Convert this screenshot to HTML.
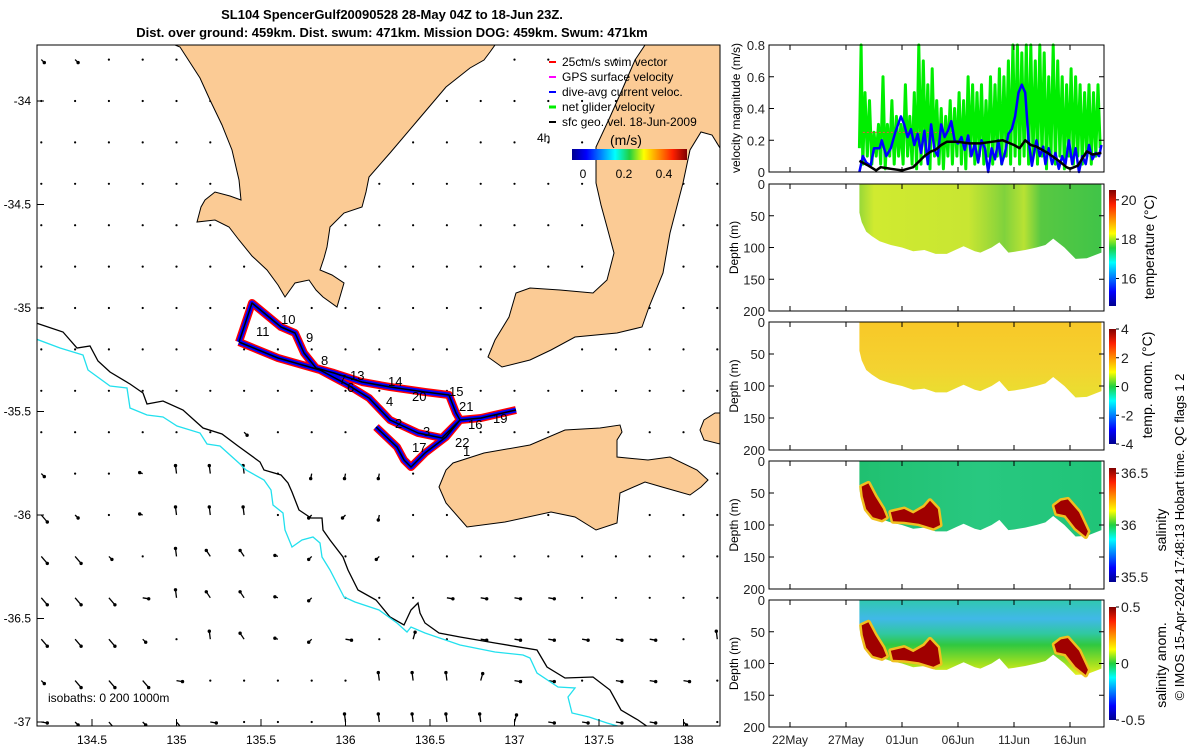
<!DOCTYPE html>
<html><head><meta charset="utf-8"><style>
html,body{margin:0;padding:0;background:#fff}
svg{display:block;font-family:"Liberation Sans","DejaVu Sans",sans-serif}
</style></head><body>
<svg id="fig" width="1200" height="750" viewBox="0 0 1200 750" xmlns="http://www.w3.org/2000/svg">
<defs>
<linearGradient id="jetV" x1="0" y1="1" x2="0" y2="0">
<stop offset="0" stop-color="#00008f"/><stop offset="0.125" stop-color="#0000ff"/><stop offset="0.375" stop-color="#00ffff"/><stop offset="0.5" stop-color="#20d040"/><stop offset="0.625" stop-color="#ffff00"/><stop offset="0.875" stop-color="#ff2000"/><stop offset="1" stop-color="#800000"/></linearGradient>
<linearGradient id="jetH" x1="0" y1="0" x2="1" y2="0">
<stop offset="0" stop-color="#00008f"/><stop offset="0.125" stop-color="#0000ff"/><stop offset="0.375" stop-color="#00ffff"/><stop offset="0.5" stop-color="#20d040"/><stop offset="0.625" stop-color="#ffff00"/><stop offset="0.875" stop-color="#ff2000"/><stop offset="1" stop-color="#800000"/></linearGradient>
<linearGradient id="tempG" x1="0" y1="0" x2="1" y2="0">
<stop offset="0" stop-color="#98d838"/><stop offset="0.06" stop-color="#d0ea30"/><stop offset="0.45" stop-color="#c8e632"/><stop offset="0.52" stop-color="#a8dc36"/><stop offset="0.6" stop-color="#80d23c"/><stop offset="0.68" stop-color="#b8e234"/><stop offset="0.75" stop-color="#58c842"/><stop offset="1" stop-color="#40c448"/></linearGradient>
<linearGradient id="anomG" x1="0" y1="0" x2="0" y2="1">
<stop offset="0" stop-color="#f8c828"/><stop offset="0.6" stop-color="#f4d230"/><stop offset="1" stop-color="#e8e030"/></linearGradient>
<linearGradient id="salG" x1="0" y1="0" x2="1" y2="0">
<stop offset="0" stop-color="#20c070"/><stop offset="0.5" stop-color="#28c880"/><stop offset="1" stop-color="#20c478"/></linearGradient>
<linearGradient id="sanG" x1="0" y1="0" x2="0" y2="1">
<stop offset="0" stop-color="#30c8b0"/><stop offset="0.25" stop-color="#40b8e8"/><stop offset="0.45" stop-color="#30c8a0"/><stop offset="0.6" stop-color="#30c840"/><stop offset="0.85" stop-color="#a0e020"/><stop offset="1" stop-color="#e8f020"/></linearGradient>
<clipPath id="mapClip"><rect x="37" y="45" width="683" height="681"/></clipPath>
</defs>

<g font-weight="bold" font-size="13" text-anchor="middle">
<text x="392" y="19">SL104 SpencerGulf20090528 28-May 04Z to 18-Jun 23Z.</text>
<text x="392" y="37">Dist. over ground: 459km. Dist. swum: 471km. Mission DOG: 459km. Swum: 471km</text>
</g>

<g id="map" clip-path="url(#mapClip)">
<g id="arrows"></g>
<g fill="#fbcb95" stroke="#000" stroke-width="1">
<polygon points="175,45 180,47 200,78 210,100 222,125 232,150 239,180 241,200 230,196 215,192 205,200 201,207 197,222 215,220 229,227 239,240 252,256 267,270 278,285 285,297 295,283 309,280 316,290 323,297 337,307 344,283 332,275 320,270 324,258 327,247 330,227 344,213 362,207 366,192 369,177 390,153 418,120 446,87 470,68 484,60 490,52 495,45"/>
<polygon points="645,45 635,60 622,90 610,117 596,147 596,183 601,205 607,227 614,253 607,280 593,293 560,290 530,288 516,293 509,317 495,340 488,357 502,367 530,360 551,350 575,337 617,333 642,327 649,307 663,273 670,233 683,183 690,150 701,132 712,135 720,148 720,45"/>
<polygon points="439,487 446,470 453,463 484,453 530,445 565,430 600,428 620,425 622,432 617,440 617,457 648,460 670,457 697,470 708,480 701,487 690,495 662,487 645,482 620,493 617,523 596,530 575,517 551,512 505,522 467,527 446,503"/>
<polygon points="704,420 715,413 724,413 724,445 704,440 700,430"/>
</g>
<polyline fill="none" stroke="#000" stroke-width="1.3" points="36,323 63,332 77,348 90,346 98,361 110,372 130,384 143,393 147,404 163,401 183,410 203,428 222,434 238,446 260,462 264,470 281,475 288,483 292,492 299,510 311,518 322,518 323,530 330,540 343,557 348,570 358,590 376,600 390,617 404,625 411,610 418,603 420,613 425,623 439,633 460,637 495,643 537,650 547,667 565,678 593,677 610,690 621,710 638,720 648,727"/>
<polyline fill="none" stroke="#22e0ee" stroke-width="1.3" points="36,339 60,348 83,355 88,370 110,386 127,388 130,408 147,415 163,417 177,426 200,433 207,444 220,446 240,464 246,470 264,480 271,490 273,505 283,513 285,530 292,547 302,540 313,537 320,543 322,557 330,570 344,597 355,602 379,610 397,623 407,632 411,627 425,633 460,645 495,652 523,655 530,658 537,673 558,687 575,688 568,697 572,713 589,717 607,723 621,727"/>
<g fill="none" stroke-linejoin="round">
<path stroke="#ff0000" stroke-width="8" d="M239,342 L252,303 L281,327 L295,333 L304,353 L316,368 L334,373 L362,382 L390,387 L425,392 L449,395 L456,413 L460,420 L481,418 L516,410 M460,420 L446,437 L425,453 L411,467 L404,460 L397,447 L376,427 M239,342 L278,358 L320,370 L348,385 L369,398 L390,420 L418,433 L442,438 L460,420"/>
<path stroke="#0000ff" stroke-width="5" d="M239,342 L252,303 L281,327 L295,333 L304,353 L316,368 L334,373 L362,382 L390,387 L425,392 L449,395 L456,413 L460,420 L481,418 L516,410 M460,420 L446,437 L425,453 L411,467 L404,460 L397,447 L376,427 M239,342 L278,358 L320,370 L348,385 L369,398 L390,420 L418,433 L442,438 L460,420"/>
<path stroke="#000" stroke-width="1.5" d="M239,342 L252,303 L281,327 L295,333 L304,353 L316,368 L334,373 L362,382 L390,387 L425,392 L449,395 L456,413 L460,420 L481,418 L516,410 M460,420 L446,437 L425,453 L411,467 L404,460 L397,447 L376,427 M239,342 L278,358 L320,370 L348,385 L369,398 L390,420 L418,433 L442,438 L460,420"/>
</g>
<g font-size="13" fill="#000">
<text x="281" y="324">10</text><text x="256" y="336">11</text><text x="306" y="342">9</text><text x="321" y="365">8</text>
<text x="339" y="384">7</text><text x="347" y="392">6</text><text x="350" y="380">13</text><text x="388" y="386">14</text>
<text x="412" y="401">20</text><text x="386" y="406">4</text><text x="449" y="396">15</text><text x="459" y="411">21</text>
<text x="468" y="429">16</text><text x="493" y="423">19</text><text x="395" y="428">2</text><text x="423" y="436">3</text>
<text x="412" y="452">17</text><text x="455" y="447">22</text><text x="463" y="456">1</text>
</g>
</g>
<rect x="37" y="45" width="683" height="681" fill="none" stroke="#000" stroke-width="1"/>

<g font-size="12">
<line x1="549" y1="62" x2="556" y2="62" stroke="#f00" stroke-width="2"/><text x="562" y="66">25cm/s swim vector</text>
<line x1="549" y1="77" x2="556" y2="77" stroke="#f0f" stroke-width="2"/><text x="562" y="81">GPS surface velocity</text>
<line x1="549" y1="92" x2="556" y2="92" stroke="#00f" stroke-width="2"/><text x="562" y="96">dive-avg current veloc.</text>
<line x1="549" y1="107" x2="556" y2="107" stroke="#0e0" stroke-width="3"/><text x="562" y="111">net glider velocity</text>
<line x1="549" y1="122" x2="556" y2="122" stroke="#000" stroke-width="2"/><text x="562" y="126">sfc geo. vel. 18-Jun-2009</text>
<text x="537" y="142">4h</text>
<text x="610" y="145" font-size="14">(m/s)</text>
<rect x="572" y="149" width="115" height="11" fill="url(#jetH)"/>
<text x="583" y="178" text-anchor="middle">0</text><text x="624" y="178" text-anchor="middle">0.2</text><text x="664" y="178" text-anchor="middle">0.4</text>
</g>
<text x="48" y="702" font-size="12">isobaths: 0   200  1000m</text>

<g id="mapAxes" font-size="12"></g>
<g id="right"></g>

<g font-size="14" text-anchor="middle">
<text transform="translate(1154,247) rotate(-90)">temperature (°C)</text>
<text transform="translate(1152,385) rotate(-90)">temp. anom. (°C)</text>
<text transform="translate(1166,530) rotate(-90)">salinity</text>
<text transform="translate(1166,665) rotate(-90)">salinity anom.</text>
<text transform="translate(1184,537) rotate(-90)" font-size="13">© IMOS 15-Apr-2024 17:48:13 Hobart time. QC flags 1  2</text>
</g>
</svg>
<script>
var NS='http://www.w3.org/2000/svg';
// ---- map data ----
var gridLons=[134.2,134.4,134.6,134.8,135.0,135.2,135.4,135.6,135.8,136.0,136.2,136.4,136.6,136.8,137.0,137.2,137.4,137.6,137.8,138.0,138.2];
var gridLats=[-33.8,-34.0,-34.2,-34.4,-34.6,-34.8,-35.0,-35.2,-35.4,-35.6,-35.8,-36.0,-36.2,-36.4,-36.6,-36.8,-37.0];
var gridCodes=["dd...................",".....................",".....................",".....................",".....................",".....................",".....................",".....................",".....................","......d..............","d..wnnn.sss..........","Dd.wnnn.xxs..........","DDd.nNNwx.x..........","DDDenNNwx...eeee.....","DDDd.nNwxe.f.eeeeee.n","dDDDe.....nnnfee.eee.","edDdDe...nnnnnfeeeed."];
var lonTicks=[134.5,135,135.5,136,136.5,137,137.5,138];
var latTicks=[-34,-34.5,-35,-35.5,-36,-36.5,-37];
// ---- time-series data (day 0 = 22 May 2009) ----
var dayTicks=[0,5,10,15,20,25];
var dayLabels=['22May','27May','01Jun','06Jun','11Jun','16Jun'];
var velTicks=[0,0.2,0.4,0.6,0.8];
var greenDays=[6.2,6.35,6.5,6.7,6.9,7.1,7.3,7.5,7.7,7.9,8.1,8.3,8.5,8.7,8.9,9.1,9.3,9.5,9.7,9.9,10.1,10.3,10.5,10.7,10.9,11.1,11.3,11.5,11.7,11.9,12.1,12.3,12.5,12.7,12.9,13.1,13.3,13.5,13.7,13.9,14.1,14.3,14.5,14.7,14.9,15.1,15.3,15.5,15.7,15.9,16.1,16.3,16.5,16.7,16.9,17.1,17.3,17.5,17.7,17.9,18.1,18.3,18.5,18.7,18.9,19.1,19.3,19.5,19.7,19.9,20.1,20.3,20.5,20.7,20.9,21.1,21.3,21.5,21.7,21.9,22.1,22.3,22.5,22.7,22.9,23.1,23.3,23.5,23.7,23.9,24.1,24.3,24.5,24.7,24.9,25.1,25.3,25.5,25.7,25.9,26.1,26.3,26.5,26.7,26.9,27.1,27.3,27.5,27.7];
var greenVals=[0.15,0.8,0.05,0.5,0.1,0.45,0.05,0.25,0.1,0.3,0.05,0.6,0.02,0.3,0.1,0.45,0.05,0.35,0.1,0.3,0.05,0.55,0.1,0.35,0.05,0.5,0.02,0.8,0.05,0.7,0.1,0.55,0.02,0.65,0.1,0.45,0.05,0.4,0.02,0.35,0.1,0.45,0.05,0.4,0.1,0.5,0.05,0.45,0.02,0.6,0.1,0.55,0.05,0.5,0.1,0.55,0.05,0.45,0.1,0.6,0.05,0.55,0.1,0.65,0.05,0.6,0.1,0.7,0.05,0.8,0.1,0.8,0.05,0.75,0.1,0.8,0.05,0.8,0.1,0.7,0.05,0.8,0.1,0.75,0.02,0.6,0.1,0.8,0.05,0.7,0.1,0.6,0.02,0.55,0.1,0.65,0.05,0.6,0.1,0.55,0.05,0.5,0.1,0.55,0.05,0.5,0.1,0.55,0.15];
var blueDays=[6.2,6.5,6.8,7.2,7.5,8.0,8.2,8.6,9.0,9.4,9.9,10.2,10.5,10.8,11.1,11.4,11.7,12.0,12.3,12.6,12.9,13.2,13.5,13.8,14.1,14.4,14.7,15.0,15.3,15.6,15.9,16.2,16.5,16.8,17.1,17.4,17.7,18.0,18.3,18.6,18.9,19.2,19.5,19.8,20.1,20.4,20.7,21.0,21.3,21.6,22.0,22.3,22.6,22.8,23.1,23.4,23.7,24.0,24.3,24.6,24.9,25.2,25.5,25.8,26.1,26.4,26.7,27.0,27.3,27.6,27.8];
var blueVals=[0.0,0.1,0.06,0.04,0.15,0.15,0.2,0.1,0.15,0.25,0.35,0.3,0.22,0.27,0.17,0.24,0.12,0.26,0.05,0.3,0.14,0.1,0.3,0.22,0.26,0.32,0.2,0.18,0.22,0.14,0.23,0.1,0.18,0.06,0.2,0.15,0.0,0.15,0.08,0.2,0.05,0.12,0.24,0.27,0.35,0.5,0.55,0.5,0.2,0.04,0.2,0.1,0.16,0.05,0.15,0.05,0.12,0.02,0.1,0.05,0.2,0.05,0.15,0.0,0.1,0.05,0.17,0.08,0.12,0.1,0.17];
var blackDays=[6.2,7.0,7.7,8.1,9.0,10.0,11.0,12.0,12.6,13.0,13.5,14.0,15.0,16.0,17.0,18.0,19.0,20.0,20.5,21.0,21.5,22.0,23.0,24.0,24.7,25.0,25.7,26.5,27.0,27.8];
var blackVals=[0.07,0.04,0.01,0.03,0.02,0.01,0.03,0.1,0.13,0.14,0.17,0.19,0.19,0.18,0.18,0.19,0.2,0.17,0.15,0.2,0.17,0.16,0.12,0.07,0.03,0.02,0.04,0.13,0.11,0.12];
var depthTicks=[0,50,100,150,200];
var profileDays=[6.2,6.4,6.8,7.3,8.0,9.0,10.0,11.0,12.0,13.0,14.0,15.0,15.5,16.5,17.0,18.0,18.7,19.5,20.0,21.0,22.0,22.8,23.5,24.5,25.5,26.5,27.8];
var profileDepth=[45,60,75,82,90,96,100,106,104,110,110,102,98,106,108,100,92,108,107,104,100,96,86,100,118,117,108];
var salBlobA_days=[6.4,7.0,7.6,8.3,8.6,8.2,7.4,6.8,6.5];
var salBlobA_dep=[40,35,55,75,88,92,88,75,55];
var salBlobB_days=[9.0,10.2,11.0,12.0,12.5,13.2,13.4,12.8,11.5,10.2,9.2];
var salBlobB_dep=[80,75,82,72,62,75,100,105,98,95,94];
var salBlobC_days=[23.6,24.2,24.8,25.8,26.6,26.4,25.5,24.6,23.8];
var salBlobC_dep=[70,62,60,80,110,118,105,85,82];
var tempCb=[20,18,16], anomCb=[4,2,0,-2,-4], salCb=[36.5,36,35.5], sanCb=[0.5,0,-0.5];

function el(tag,attrs,parent){var e=document.createElementNS(NS,tag);for(var k in attrs)e.setAttribute(k,attrs[k]);parent.appendChild(e);return e;}
function lonX(l){return 92+(l-134.5)*169;}
function latY(a){return 101+(-34-a)*207;}
function dX(d){return 790+d*11.2;}

// arrows
var ag=document.getElementById('arrows');
var vec={'d':[3,3],'D':[6,7],'n':[-1,-8],'N':[-4,-6],'w':[-3,-1],'e':[6,1],'s':[-1,5],'x':[-3,3],'f':[2,-7]};
for(var r=0;r<gridLats.length;r++){for(var c=0;c<gridLons.length;c++){
 var code=gridCodes[r][c];var x=lonX(gridLons[c]),y=latY(gridLats[r]);
 if(code==='.'){var dt=el('circle',{cx:x,cy:y,r:1.1,fill:'#000'},ag);
  
  continue;}
 var v=vec[code];if(!v)continue;
 var ln=el('line',{x1:x,y1:y,x2:x+v[0],y2:y+v[1],stroke:'#000','stroke-width':1.3},ag);
 
 
 var hd=el('circle',{cx:x+v[0],cy:y+v[1],r:1.7,fill:'#000'},ag);
 
 
}}

// map axes
var ma=document.getElementById('mapAxes');
lonTicks.forEach(function(l){var x=lonX(l);
 el('line',{x1:x,y1:726,x2:x,y2:719,stroke:'#000'},ma);
 var t=el('text',{x:x,y:744,'text-anchor':'middle'},ma);t.textContent=String(l);
 
 });
latTicks.forEach(function(a){var y=latY(a);
 el('line',{x1:37,y1:y,x2:44,y2:y,stroke:'#000'},ma);
 var t=el('text',{x:31,y:y+4,'text-anchor':'end'},ma);t.textContent=String(a);
 
 });

// right panels
var R=document.getElementById('right');
var L=769,RR=1104;
function frame(top,bot,name){var g=el('g',{},R);
 
 
 el('rect',{x:L,y:top,width:RR-L,height:bot-top,fill:'none',stroke:'#000','stroke-width':1},g);return g;}
function ytick(g,y,label){el('line',{x1:L,y1:y,x2:L+5,y2:y,stroke:'#000'},g);el('line',{x1:RR,y1:y,x2:RR-5,y2:y,stroke:'#000'},g);
 var t=el('text',{x:L-4,y:y+5,'text-anchor':'end','font-size':13,fill:'#222'},g);t.textContent=label;
 
 }
function xticks(g,top,bot){dayTicks.forEach(function(d){var x=dX(d);el('line',{x1:x,y1:bot,x2:x,y2:bot-5,stroke:'#000'},g);el('line',{x1:x,y1:top,x2:x,y2:top+5,stroke:'#000'},g);});}
function pts(ds,vs,fx,fy){return ds.map(function(d,i){return fx(d).toFixed(1)+','+fy(vs[i]).toFixed(1);}).join(' ');}

// velocity panel
var vt=45,vb=172;function vY(v){return vb-v/0.8*(vb-vt);}
var vg=frame(vt,vb,'velocity-panel');
var gl=el('polyline',{points:pts(greenDays,greenVals,dX,vY),fill:'none',stroke:'#00ee00','stroke-width':3,'stroke-linejoin':'round'},vg);


var rl=el('line',{x1:dX(6.5),y1:vY(0.25),x2:dX(14.5),y2:vY(0.25),stroke:'#f44','stroke-width':1,'stroke-dasharray':'2,2'},vg);


var bl=el('polyline',{points:pts(blueDays,blueVals,dX,vY),fill:'none',stroke:'#0000ff','stroke-width':2.5,'stroke-linejoin':'round'},vg);


var kl=el('polyline',{points:pts(blackDays,blackVals,dX,vY),fill:'none',stroke:'#000','stroke-width':2.5,'stroke-linejoin':'round'},vg);


el('rect',{x:L,y:vt,width:RR-L,height:vb-vt,fill:'none',stroke:'#000'},vg);
velTicks.forEach(function(v){ytick(vg,vY(v),String(v));});
xticks(vg,vt,vb);
var vl=el('text',{transform:'translate(740,108) rotate(-90)','text-anchor':'middle','font-size':12},vg);vl.textContent='velocity magnitude (m/s)';



function section(top,bot,fill,name,cbTop,cbBot,cbVals,cbMin,cbMax,blobs,blobColor){
 var g=frame(top,bot,name);
 function Y(d){return top+d/200*(bot-top);}
 var p=[dX(profileDays[0]).toFixed(1)+','+Y(0)];
 for(var i=0;i<profileDays.length;i++)p.push(dX(profileDays[i]).toFixed(1)+','+Y(profileDepth[i]).toFixed(1));
 p.push(dX(profileDays[profileDays.length-1]).toFixed(1)+','+Y(0));
 var s=el('polygon',{points:p.join(' '),fill:fill},g);
 
 
 (blobs||[]).forEach(function(b){
  var o=el('polygon',{points:pts(b[0],b[1],dX,Y),fill:'#f8d020',stroke:'#f0c020','stroke-width':5,'stroke-linejoin':'round'},g);
  
  
  var q=el('polygon',{points:pts(b[0],b[1],dX,Y),fill:blobColor},g);
  
  });
 el('rect',{x:L,y:top,width:RR-L,height:bot-top,fill:'none',stroke:'#000'},g);
 depthTicks.forEach(function(d){ytick(g,Y(d),String(d));});
 xticks(g,top,bot);
 var t=el('text',{transform:'translate(738,'+((top+bot)/2)+') rotate(-90)','text-anchor':'middle','font-size':12},g);t.textContent='Depth (m)';
 
 
 var cb=el('rect',{x:1109,y:cbTop,width:7,height:cbBot-cbTop,fill:'url(#jetV)'},g);
 
 
 cbVals.forEach(function(v){var y=cbBot-(v-cbMin)/(cbMax-cbMin)*(cbBot-cbTop);
  el('line',{x1:1116,y1:y,x2:1119,y2:y,stroke:'#000'},g);
  var tl=el('text',{x:1121,y:y+5,'font-size':14,fill:'#222'},g);tl.textContent=String(v);
  
  });
 return g;}
section(184,311,'url(#tempG)','temperature-section',190,306,tempCb,14.6,20.5);
section(322,450,'url(#anomG)','temp-anomaly-section',329,444,anomCb,-4,4);
var blobs=[[salBlobA_days,salBlobA_dep],[salBlobB_days,salBlobB_dep],[salBlobC_days,salBlobC_dep]];
section(461,589,'url(#salG)','salinity-section',468,582,salCb,35.45,36.55,blobs,'#a00000');
section(600,727,'url(#sanG)','salinity-anomaly-section',607,720,sanCb,-0.5,0.5,blobs,'#a00000');
// x-axis labels
dayTicks.forEach(function(d,i){var t=el('text',{x:dX(d),y:744,'text-anchor':'middle','font-size':12,fill:'#222'},R);t.textContent=dayLabels[i];
 
 });
</script>
</body></html>
